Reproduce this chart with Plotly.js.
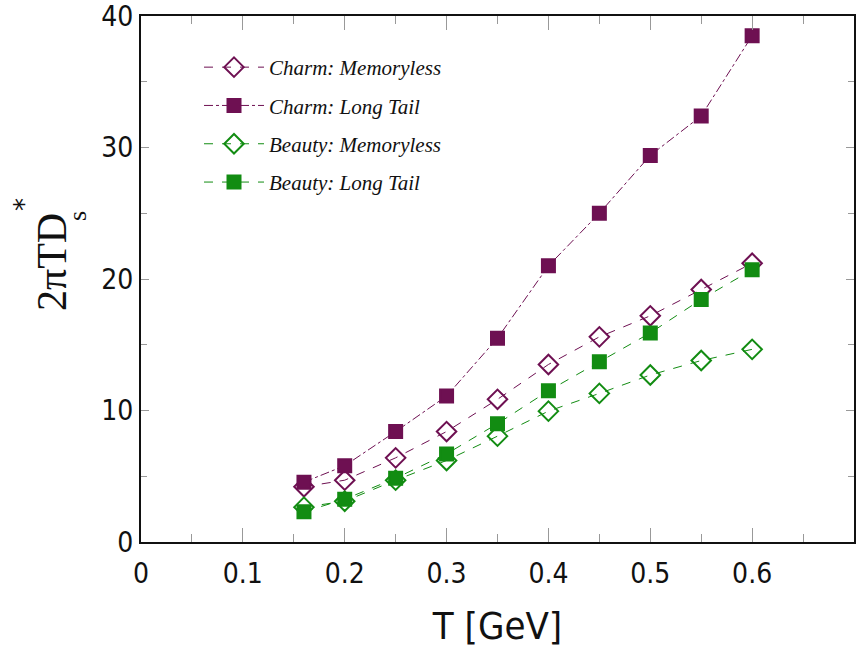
<!DOCTYPE html>
<html>
<head>
<meta charset="utf-8">
<script src="https://cdn.plot.ly/plotly-3.0.1.min.js"></script>
<style>html,body{margin:0;padding:0;background:#fff;}#chart{width:856px;height:653px;}</style>
</head>
<body>
<div id="chart"></div>
<script>
const T = [0.16, 0.2, 0.25, 0.3, 0.35, 0.4, 0.45, 0.5, 0.55, 0.6];
const charmMemoryless = [4.2, 4.7, 6.4, 8.4, 10.85, 13.5, 15.6, 17.2, 19.2, 21.2];
const charmLongTail = [4.55, 5.8, 8.4, 11.1, 15.5, 21.0, 25.0, 29.4, 32.4, 38.5];
const beautyMemoryless = [2.65, 3.1, 4.7, 6.2, 8.05, 9.95, 11.3, 12.7, 13.8, 14.65];
const beautyLongTail = [2.3, 3.25, 4.85, 6.7, 9.0, 11.5, 13.7, 15.9, 18.45, 20.7];
const xTickVals = [0, 0.1, 0.2, 0.3, 0.4, 0.5, 0.6];
const xTickText = ['0', '0.1', '0.2', '0.3', '0.4', '0.5', '0.6'];
const yTickVals = [0, 10, 20, 30, 40];
const yTickText = ['0', '10', '20', '30', '40'];
const names = ['Charm: Memoryless', 'Charm: Long Tail', 'Beauty: Memoryless', 'Beauty: Long Tail'];

const purple = '#6e1052';
const green = '#128c12';

function tr(y, name, color, dash, symbol, i) {
  return {
    x: T, y: y, name: name, type: 'scatter', mode: 'lines+markers',
    legendgroup: 'g' + i,
    line: {color: color, width: 1, dash: dash},
    marker: {symbol: symbol, size: symbol.indexOf('diamond') === 0 ? 15 : 13, color: color,
             line: {color: color, width: 2}}
  };
}

const data = [
  tr(charmMemoryless, names[0], purple, 'dash', 'diamond-open', 0),
  tr(charmLongTail, names[1], purple, 'dashdot', 'square', 1),
  tr(beautyMemoryless, names[2], green, 'dash', 'diamond-open', 2),
  tr(beautyLongTail, names[3], green, 'dash', 'square', 3)
];

const tickFont = {family: 'DejaVu Sans Condensed, DejaVu Sans, sans-serif', size: 28, color: '#111'};
const L = 141, W = 713, B = 542, H = 526;

const layout = {
  width: 856, height: 653,
  margin: {l: 141, r: 2, t: 16, b: 111},
  paper_bgcolor: '#fff', plot_bgcolor: '#fff',
  showlegend: true,
  legend: {x: (199 - L) / W, y: (B - 47) / H, xanchor: 'left', yanchor: 'top', bgcolor: 'rgba(0,0,0,0)',
           font: {family: 'Liberation Serif, serif', size: 21, color: '#111', style: 'italic'},
           itemwidth: 60, tracegroupgap: 8},
  xaxis: {
    range: [0, 0.7], tickmode: 'array', tickvals: xTickVals, ticktext: xTickText,
    showgrid: false, zeroline: false, showline: true, linecolor: '#111', linewidth: 2,
    mirror: 'allticks', ticks: 'inside', ticklen: 14, tickwidth: 1, tickcolor: '#999',
    minor: {dtick: 0.05, tick0: 0, ticks: 'inside', ticklen: 8, tickcolor: '#999', tickwidth: 1, showgrid: false},
    tickfont: tickFont, ticklabelstandoff: 5,
    title: {text: 'T [GeV]', font: {family: 'DejaVu Sans Condensed, DejaVu Sans, sans-serif', size: 38, color: '#111'}, standoff: 24}
  },
  yaxis: {
    range: [0, 40], tickmode: 'array', tickvals: yTickVals, ticktext: yTickText,
    showgrid: false, zeroline: false, showline: true, linecolor: '#111', linewidth: 2,
    mirror: 'allticks', ticks: 'inside', ticklen: 8, tickwidth: 1, tickcolor: '#999',
    minor: {dtick: 5, tick0: 0, ticks: 'inside', ticklen: 6, tickcolor: '#999', tickwidth: 1, showgrid: false},
    tickfont: tickFont, ticklabeloverflow: 'allow',
    title: {text: ''}
  },
  annotations: [
    {text: '2πTD', xref: 'paper', yref: 'paper', x: (52 - L) / W, y: (B - 262) / H,
     xanchor: 'center', yanchor: 'middle',
     showarrow: false, textangle: -90, font: {family: 'Liberation Serif, serif', size: 42, color: '#111'}},
    {text: '*', xref: 'paper', yref: 'paper', x: (24 - L) / W, y: (B - 205) / H,
     xanchor: 'center', yanchor: 'middle',
     showarrow: false, textangle: -90, font: {family: 'DejaVu Sans, sans-serif', size: 26, color: '#111'}},
    {text: 's', xref: 'paper', yref: 'paper', x: (77 - L) / W, y: (B - 216) / H,
     xanchor: 'center', yanchor: 'middle',
     showarrow: false, textangle: -90, font: {family: 'Liberation Serif, serif', size: 26, color: '#111'}}
  ]
};

Plotly.newPlot('chart', data, layout, {displayModeBar: false, staticPlot: true});
</script>
</body>
</html>
